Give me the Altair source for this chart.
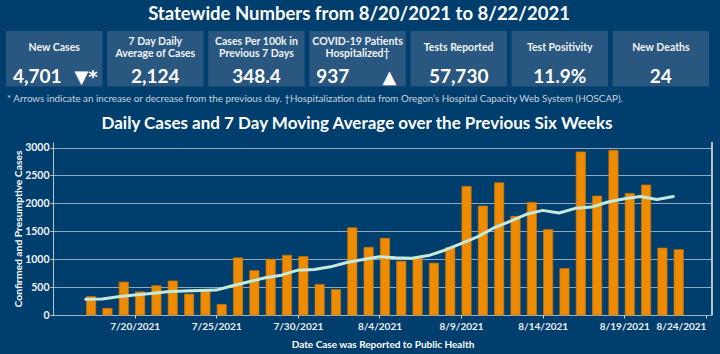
import altair as alt
import pandas as pd

# ---- data ----
dates = pd.date_range("2021-07-17", "2021-08-22").strftime("%Y-%m-%dT00:00:00").tolist()
cases = [330, 120, 590, 415, 525, 610, 375, 430, 190, 1025,
         795, 1000, 1070, 1048, 548, 458, 1565, 1214, 1375, 964,
         1012, 929, 1208, 2304, 1952, 2369, 1768, 2018, 1530, 833,
         2923, 2131, 2952, 2179, 2330, 1200, 1171]
avg7 = [280, 285, 327, 357, 387, 417, 428, 440, 446, 524,
        595, 667, 714, 804, 815, 863, 940, 994, 1042, 1024,
        1018, 1065, 1161, 1280, 1399, 1560, 1679, 1804, 1875, 1827,
        1911, 1934, 2024, 2083, 2125, 2071, 2124]

kpi_labels = ["New Cases", "7 Day Daily\nAverage of Cases", "Cases Per 100k in\nPrevious 7 Days",
              "COVID-19 Patients\nHospitalized†", "Tests Reported", "Test Positivity", "New Deaths"]
kpi_values = ["4,701", "2,124", "348.4", "937", "57,730", "11.9%", "24"]
kpi_arrows = ["▼*", "", "", "▲", "", "", ""]

tick_dates = ["2021-07-20", "2021-07-25", "2021-07-30", "2021-08-04",
              "2021-08-09", "2021-08-14", "2021-08-19", "2021-08-24"]
y_ticks = [0, 500, 1000, 1500, 2000, 2500, 3000]

title_text = "Statewide Numbers from 8/20/2021 to 8/22/2021"
footnote = ("* Arrows indicate an increase or decrease from the previous day. "
            "†Hospitalization data from Oregon’s Hospital Capacity Web System (HOSCAP).")
chart_title = "Daily Cases and 7 Day Moving Average over the Previous Six Weeks"

# ---- style ----
BG = "#003e6d"
BOX = "#29577f"
FONT = "Lato"
X0, Y0 = 53, 142  # plot origin in page pixels
W, H = 659, 173
LH = 12.6  # line height of the KPI labels

df = pd.DataFrame({"date": dates, "cases": cases, "avg": avg7})
kpi = pd.DataFrame({"i": list(range(len(kpi_labels))), "label": kpi_labels,
                    "value": kpi_values, "arrow": kpi_arrows,
                    "nl": [lab.count("\n") for lab in kpi_labels]})


def dt(s, hours=0):
    y, m, d = [int(v) for v in s.split("-")]
    return alt.DateTime(year=y, month=m, date=d, hours=hours)


xscale = alt.Scale(domain=[dt("2021-07-15"), dt("2021-08-24", 9)], padding=0)
yscale = alt.Scale(domain=[0, 3100], padding=0)

xaxis = alt.Axis(values=[dt(s) for s in tick_dates], format="%-m/%-d/%Y",
                 title="Date Case was Reported to Public Health",
                 labelFont=FONT, labelFontSize=10, labelFontWeight="bold", labelColor="#eef2f6",
                 labelPadding=3, tickSize=3, tickColor="#c9d4de",
                 labelAlign=alt.condition("datum.value >= datetime(2021, 7, 23)",
                                          alt.value("right"), alt.value("center")),
                 domainColor="#b8c6d4", domainDash=[1, 2], grid=False,
                 titleFont=FONT, titleFontSize=10, titleFontWeight="bold", titleColor="#ffffff",
                 titleY=29, titleBaseline="middle")
yaxis = alt.Axis(values=y_ticks, format="d",
                 title="Confirmed and Presumptive Cases",
                 labelFont=FONT, labelFontSize=10.5, labelFontWeight="bold", labelColor="#eef2f6",
                 labelPadding=1, tickSize=3, tickColor="#b8c6d4", domainColor="#b8c6d4",
                 gridColor="#8fa9c3", gridWidth=1,
                 titleFont=FONT, titleFontSize=10.3, titleFontWeight="bold", titleColor="#ffffff",
                 titleX=-35, titleY=H / 2, titleBaseline="middle", titleAlign="center", titleAngle=-90)

bars = alt.Chart(df).mark_bar(color="#ef8b00", stroke="#c77400", strokeWidth=0.7,
                              width=9.3, xOffset=5.5).encode(
    x=alt.X("date:T", scale=xscale, axis=xaxis),
    y=alt.Y("cases:Q", scale=yscale, axis=yaxis),
)
line = alt.Chart(df).mark_line(color="#c5eadc", strokeWidth=3, strokeCap="round",
                               strokeJoin="round").encode(
    x=alt.X("date:T", scale=xscale, axis=xaxis),
    y=alt.Y("avg:Q", scale=yscale, axis=yaxis),
)
right_border = alt.Chart(df).mark_rule(color="#b8c6d4", strokeWidth=1).encode(
    x=alt.value(W), y=alt.value(0), y2=alt.value(H))

main = alt.layer(bars, line, right_border)

one = pd.DataFrame({"t": [title_text], "f": [footnote], "c": [chart_title]})
title = alt.Chart(one).mark_text(font=FONT, fontSize=18.5, fontWeight="bold", color="#ffffff",
                                 align="center", baseline="middle").encode(
    text="t:N", x=alt.value(359 - X0), y=alt.value(13.5 - Y0))
foot = alt.Chart(one).mark_text(font=FONT, fontSize=9.8, color="#c9d4de",
                                align="left", baseline="middle").encode(
    text="f:N", x=alt.value(7 - X0), y=alt.value(98.5 - Y0))
ctitle = alt.Chart(one).mark_text(font=FONT, fontSize=17, fontWeight="bold", color="#ffffff",
                                  align="center", baseline="middle").encode(
    text="c:N", x=alt.value(357 - X0), y=alt.value(123.5 - Y0))

kbase = alt.Chart(kpi).transform_calculate(
    bx=f"6 + datum.i * 101.1 - {X0}",
    bx2=f"6 + datum.i * 101.1 + 96.5 - {X0}",
    cx=f"6 + datum.i * 101.1 + 48.25 - {X0}",
    lx=f"6 + datum.i * 101.1 + 7 - {X0}",
    ax=f"6 + datum.i * 101.1 + 80 - {X0}",
    ly=f"47.8 - datum.nl * {LH / 2} - {Y0}",
)
boxes = kbase.mark_rect(color=BOX).encode(
    x=alt.X("bx:Q", scale=None, axis=None), x2="bx2:Q",
    y=alt.value(31 - Y0), y2=alt.value(86.5 - Y0))
klabels = kbase.mark_text(font=FONT, fontSize=10.5, fontWeight="bold", color="#f0f4f8",
                          align="center", baseline="middle", lineBreak="\n", lineHeight=LH).encode(
    x=alt.X("cx:Q", scale=None, axis=None), y=alt.Y("ly:Q", scale=None, axis=None), text="label:N")
kvals_c = kbase.transform_filter("datum.arrow == ''").mark_text(
    font=FONT, fontSize=19, fontWeight="bold", color="#ffffff", align="center", baseline="middle").encode(
    x=alt.X("cx:Q", scale=None, axis=None), y=alt.value(77 - Y0), text="value:N")
kvals_l = kbase.transform_filter("datum.arrow != ''").mark_text(
    font=FONT, fontSize=19, fontWeight="bold", color="#ffffff", align="left", baseline="middle").encode(
    x=alt.X("lx:Q", scale=None, axis=None), y=alt.value(77 - Y0), text="value:N")
karrows = kbase.transform_filter("datum.arrow != ''").mark_text(
    font="DejaVu Sans", fontSize=18, fontWeight="bold", color="#ffffff", align="center",
    baseline="middle").encode(
    x=alt.X("ax:Q", scale=None, axis=None), y=alt.value(77.5 - Y0), text="arrow:N")

header = alt.layer(boxes, klabels, kvals_c, kvals_l, karrows)

chart = alt.layer(main, title, foot, ctitle, header).resolve_scale(
    x="independent", y="independent"
).properties(
    width=W, height=H,
    autosize=alt.AutoSizeParams(type="none"),
    padding={"left": X0, "top": Y0, "right": 720 - X0 - W, "bottom": 354 - Y0 - H},
    background=BG,
).configure_view(stroke=None)

chart.save("out.html", embed_options={"renderer": "svg", "actions": False})
